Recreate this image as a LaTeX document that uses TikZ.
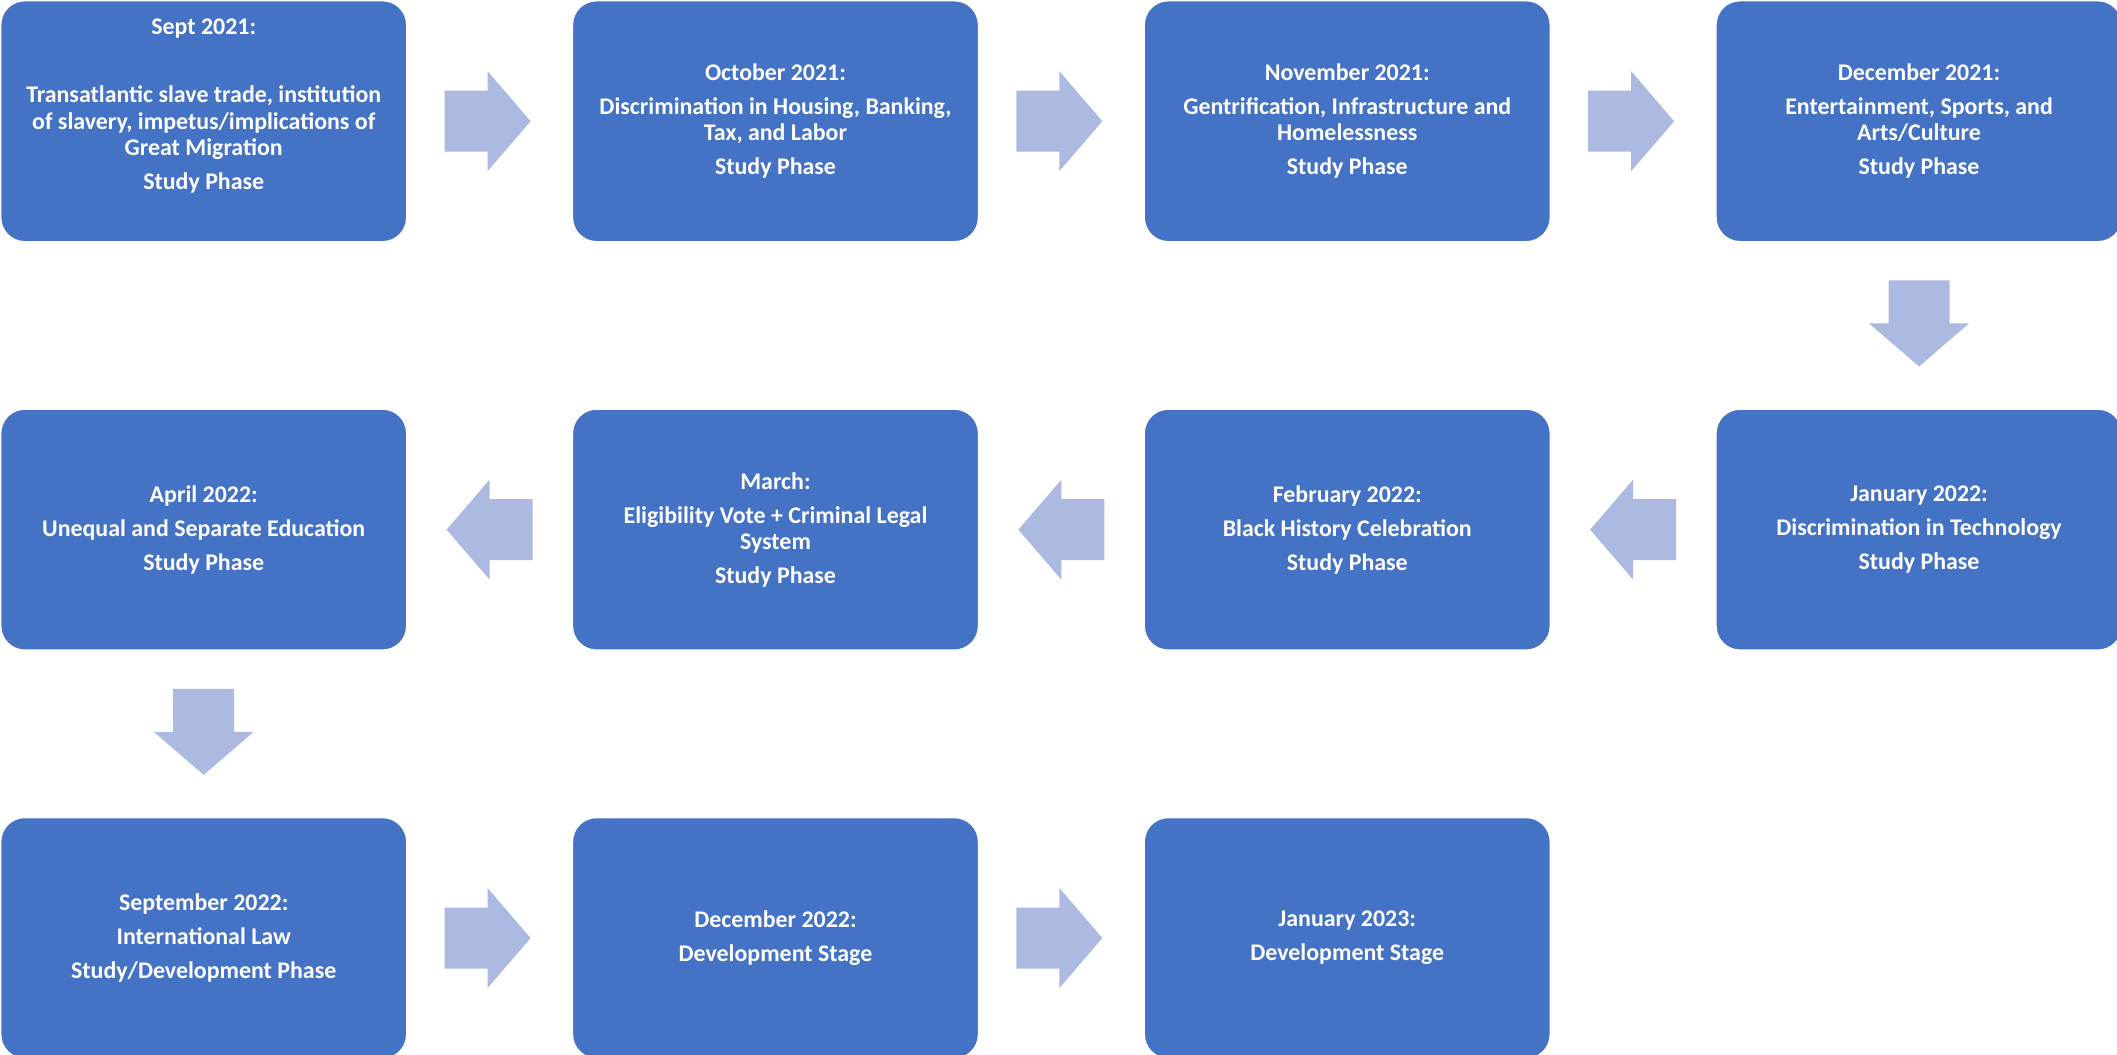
\documentclass[tikz,border=0pt]{standalone}
\usepackage{fontspec}
\setmainfont{Carlito}
\usetikzlibrary{positioning,calc}
\definecolor{boxblue}{RGB}{68,114,196}
\definecolor{arrowblue}{RGB}{172,185,224}
\tikzset{
  stagebox/.style={rectangle,rounded corners=3.6mm,fill=boxblue,draw=white,line width=.6pt,
    minimum width=60.9mm,minimum height=36.15mm,inner sep=0pt,align=center,text=white,
    font=\bfseries\fontsize{10.2}{11.2}\selectfont},
  blockarrow/.pic={\fill[arrowblue] (-43,-30.5) -- (0,-30.5) -- (0,-50) -- (43,0) -- (0,50) -- (0,30.5) -- (-43,30.5) -- cycle;}
}

\begin{document}
\begin{tikzpicture}[x=.15mm,y=.15mm,node distance=24.9mm and 24.65mm]
\useasboundingbox (0,0) rectangle (2117,-1055);
\node[stagebox,anchor=north west] (sep21) at (0,0) {Sept 2021:\\[3.3pt]\mbox{}\\[3.3pt]Transatlantic slave trade, institution\\of slavery, impetus/implications of\\Great Migration\\[3.3pt]Study Phase\\[3.3pt]\mbox{}};
\node[stagebox,right=of sep21] (oct21) {October 2021:\\[3.3pt]Discrimination in Housing, Banking,\\Tax, and Labor\\[3.3pt]Study Phase};
\node[stagebox,right=of oct21] (nov21) {November 2021:\\[3.3pt]Gentrification, Infrastructure and\\Homelessness\\[3.3pt]Study Phase};
\node[stagebox,right=of nov21] (dec21) {December 2021:\\[3.3pt]Entertainment, Sports, and\\Arts/Culture\\[3.3pt]Study Phase};
\node[stagebox,below=of dec21] (jan22) {January 2022:\\[3.3pt]Discrimination in Technology\\[3.3pt]Study Phase};
\node[stagebox,left=of jan22] (feb22) {February 2022:\\[3.3pt]Black History Celebration\\[3.3pt]Study Phase};
\node[stagebox,left=of feb22] (mar22) {March:\\[3.3pt]Eligibility Vote + Criminal Legal\\System\\[3.3pt]Study Phase};
\node[stagebox,left=of mar22] (apr22) {April 2022:\\[3.3pt]Unequal and Separate Education\\[3.3pt]Study Phase};
\node[stagebox,below=of apr22] (sep22) {September 2022:\\[3.3pt]International Law\\[3.3pt]Study/Development Phase};
\node[stagebox,right=of sep22] (dec22) {December 2022:\\[3.3pt]Development Stage};
\node[stagebox,right=of dec22] (jan23) {January 2023:\\[3.3pt]Development Stage};
\pic at ($(sep21.east)!.5!(oct21.west)+(-2,0)$) {blockarrow};
\pic at ($(oct21.east)!.5!(nov21.west)+(-2,0)$) {blockarrow};
\pic at ($(nov21.east)!.5!(dec21.west)+(-2,0)$) {blockarrow};
\pic[rotate=-90] at ($(dec21.south)!.5!(jan22.north)+(0,2)$) {blockarrow};
\pic[rotate=180] at ($(jan22.west)!.5!(feb22.east)$) {blockarrow};
\pic[rotate=180] at ($(feb22.west)!.5!(mar22.east)$) {blockarrow};
\pic[rotate=180] at ($(mar22.west)!.5!(apr22.east)$) {blockarrow};
\pic[rotate=-90] at ($(apr22.south)!.5!(sep22.north)+(0,2)$) {blockarrow};
\pic at ($(sep22.east)!.5!(dec22.west)+(-2,0)$) {blockarrow};
\pic at ($(dec22.east)!.5!(jan23.west)+(-2,0)$) {blockarrow};
\end{tikzpicture}
\end{document}
